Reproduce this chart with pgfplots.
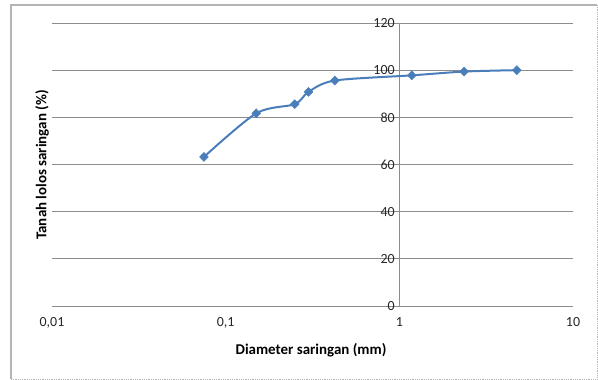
\documentclass[border=0pt]{standalone}
\usepackage{pgfplots}
\pgfplotsset{compat=1.18}
\usepackage{fontspec}
\setmainfont{Carlito}
\definecolor{excelblue}{HTML}{4A7EBB}
\definecolor{gridgray}{HTML}{8C8C8C}
\definecolor{framegray}{HTML}{B4B4B4}
\begin{document}
\begin{tikzpicture}
\useasboundingbox (-52bp,-74bp) rectangle (546bp,306bp);
\draw[framegray, line width=1.2bp] (-41bp,-73bp) -- (-41bp,301bp) -- (545bp,301bp);
\draw[framegray, line width=0.8bp, densely dotted] (545bp,301bp) -- (545bp,-73bp) -- (-41bp,-73bp);
\begin{axis}[
  scale only axis,
  width=521bp, height=283bp,
  xmode=log,
  xmin=0.01, xmax=10,
  ymin=0, ymax=120,
  axis y line=center,
  axis x line=bottom,
  hide obscured y ticks=false,
  hide obscured x ticks=false,
  axis line style={gridgray, line width=0.8bp, -},
  xtick={0.01,0.1,1,10},
  xticklabels={{0,01},{0,1},1,10},
  ytick={0,20,40,60,80,100,120},
  ymajorgrids,
  grid style={gridgray, line width=0.8bp},
  tick style={draw=none},
  minor tick num=0,
  xminorticks=false,
  /pgf/number format/assume math mode=true,
  tick label style={font=\fontsize{14}{16}\selectfont, text=black!85},
  xticklabel style={yshift=-6bp},
  yticklabel style={xshift=1bp},
  clip=false,
]
\addplot[excelblue, line width=2bp, smooth, tension=0.5,
  mark=diamond*, mark size=4.5pt, mark options={fill=excelblue, draw=excelblue, line width=0.5bp, xscale=1.3}]
  coordinates {
  (0.075,63.2) (0.15,81.7) (0.25,85.6) (0.3,90.8) (0.425,95.6)
  (1.18,97.8) (2.36,99.4) (4.75,100)
  };
\end{axis}
\node[rotate=90, font=\fontsize{15}{17}\selectfont\bfseries] at (-10bp,141bp) {Tanah lolos saringan (\%)};
\node[font=\fontsize{15}{17}\selectfont\bfseries] at (259bp,-44bp) {Diameter saringan (mm)};
\end{tikzpicture}
\end{document}
